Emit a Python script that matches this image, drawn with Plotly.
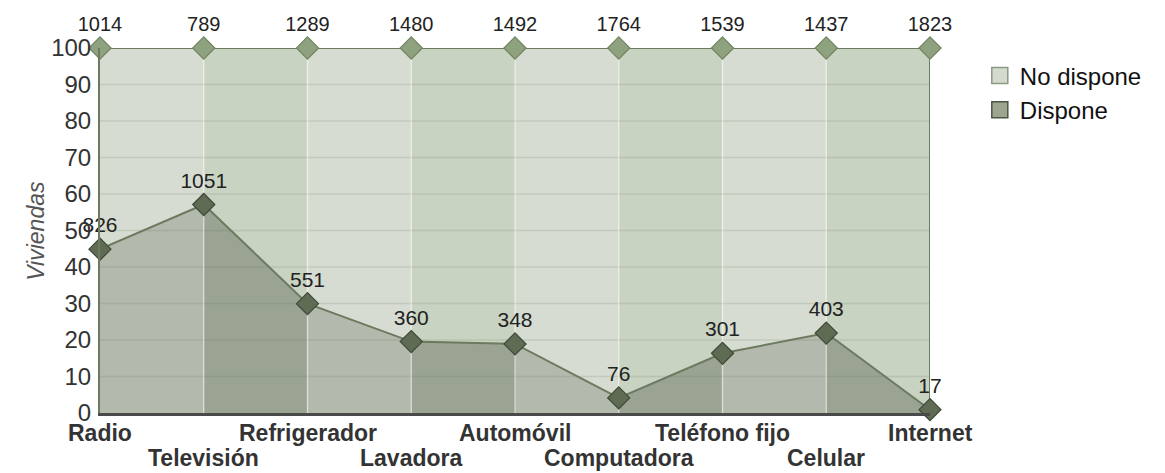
import plotly.graph_objects as go

categories = ["Radio", "Televisión", "Refrigerador", "Lavadora", "Automóvil",
              "Computadora", "Teléfono fijo", "Celular", "Internet"]
dispone = [826, 1051, 551, 360, 348, 76, 301, 403, 17]
no_dispone = [1014, 789, 1289, 1480, 1492, 1764, 1539, 1437, 1823]
y_ticks = [0, 10, 20, 30, 40, 50, 60, 70, 80, 90, 100]

n = len(categories)
xs = list(range(n))
pct_d = [d / (d + nd) * 100 for d, nd in zip(dispone, no_dispone)]
pct_top = [100.0] * n

ND_LIGHT, ND_DARK = "#d6dcd2", "#c9d3c1"
D_LIGHT, D_DARK = "#b3b9ad", "#9ba492"
LINE = "#6c7a5f"
FONT = "Liberation Sans, Arial"

fig = go.Figure()

# band segments between categories (alternating shades)
for i in range(n - 1):
    light = (i % 2 == 0)
    fig.add_trace(go.Scatter(
        x=[xs[i], xs[i + 1], xs[i + 1], xs[i], xs[i]],
        y=[pct_d[i], pct_d[i + 1], 0, 0, pct_d[i]],
        fill="toself", fillcolor=D_LIGHT if light else D_DARK,
        mode="lines", line=dict(width=0), showlegend=False, hoverinfo="skip"))
    fig.add_trace(go.Scatter(
        x=[xs[i], xs[i + 1], xs[i + 1], xs[i], xs[i]],
        y=[pct_d[i], pct_d[i + 1], pct_top[i + 1], pct_top[i], pct_d[i]],
        fill="toself", fillcolor=ND_LIGHT if light else ND_DARK,
        mode="lines", line=dict(width=0), showlegend=False, hoverinfo="skip"))

# horizontal grid lines
gx, gy = [], []
for v in y_ticks[1:-1]:
    gx += [xs[0], xs[-1], None]
    gy += [v, v, None]
fig.add_trace(go.Scatter(x=gx, y=gy, mode="lines",
                         line=dict(color="rgba(95,110,85,0.16)", width=1.5),
                         showlegend=False, hoverinfo="skip"))
# vertical light lines at categories
vx, vy = [], []
for i in xs[1:-1]:
    vx += [i, i, None]
    vy += [0, 100, None]
fig.add_trace(go.Scatter(x=vx, y=vy, mode="lines",
                         line=dict(color="rgba(255,255,255,0.45)", width=1.5),
                         showlegend=False, hoverinfo="skip"))

# right border
fig.add_trace(go.Scatter(x=[xs[-1], xs[-1]], y=[0, 100], mode="lines",
                         line=dict(color=LINE, width=2),
                         showlegend=False, hoverinfo="skip"))

# No dispone line (top)
fig.add_trace(go.Scatter(
    x=xs, y=pct_top, mode="lines+markers+text",
    text=[str(v) for v in no_dispone], textposition="top center",
    textfont=dict(size=20, color="#222", family=FONT),
    line=dict(color=LINE, width=2),
    marker=dict(symbol="diamond", size=17, color="#8fa27f",
                line=dict(color="#72845f", width=1.2)),
    cliponaxis=False, showlegend=False))

# Dispone line
fig.add_trace(go.Scatter(
    x=xs, y=pct_d, mode="lines+markers+text",
    text=[str(v) for v in dispone], textposition="top center",
    textfont=dict(size=21, color="#222", family=FONT),
    line=dict(color=LINE, width=2),
    marker=dict(symbol="diamond", size=17, color="#5f6b53",
                line=dict(color="#3f4938", width=1.2)),
    cliponaxis=False, showlegend=False))

# legend entries
fig.add_trace(go.Scatter(x=[None], y=[None], mode="markers", name="No dispone",
                         marker=dict(symbol="square", size=20, color="#d4dbce",
                                     line=dict(color="#8c9a82", width=1.5))))
fig.add_trace(go.Scatter(x=[None], y=[None], mode="markers", name="Dispone",
                         marker=dict(symbol="square", size=20, color="#9ca590",
                                     line=dict(color="#4c5645", width=1.5))))

# staggered category labels
for i, c in enumerate(categories):
    fig.add_annotation(x=xs[i], xref="x", y=-0.055 if i % 2 == 0 else -0.124,
                       yref="paper", text="<b>%s</b>" % c, showarrow=False,
                       yanchor="middle", xanchor="center",
                       font=dict(size=23, color="#333", family=FONT))

fig.add_annotation(x=-0.096, xref="paper", y=0.5, yref="paper", text="<i>Viviendas</i>",
                   textangle=-90, showarrow=False,
                   font=dict(size=23, color="#555", family=FONT))

fig.update_layout(
    width=1157, height=465,
    margin=dict(l=92, r=235, t=40, b=60),
    plot_bgcolor="white", paper_bgcolor="white",
    font=dict(family=FONT, color="#333"),
    xaxis=dict(range=[xs[0], xs[-1]], showgrid=False, zeroline=False,
               showticklabels=False, showline=True, linecolor="#4a4a4a", linewidth=2.5),
    yaxis=dict(range=[0, 100], tickvals=y_ticks, showgrid=False, zeroline=False,
               showline=True, linecolor=LINE, linewidth=2,
               tickfont=dict(size=24, color="#333"), ticks="", ticklabelstandoff=2),
    legend=dict(x=1.06, y=0.985, xanchor="left", yanchor="top",
                font=dict(size=24, color="#111"), bgcolor="rgba(0,0,0,0)",
                tracegroupgap=0),
    showlegend=True,
)

fig.write_html("out.html")
